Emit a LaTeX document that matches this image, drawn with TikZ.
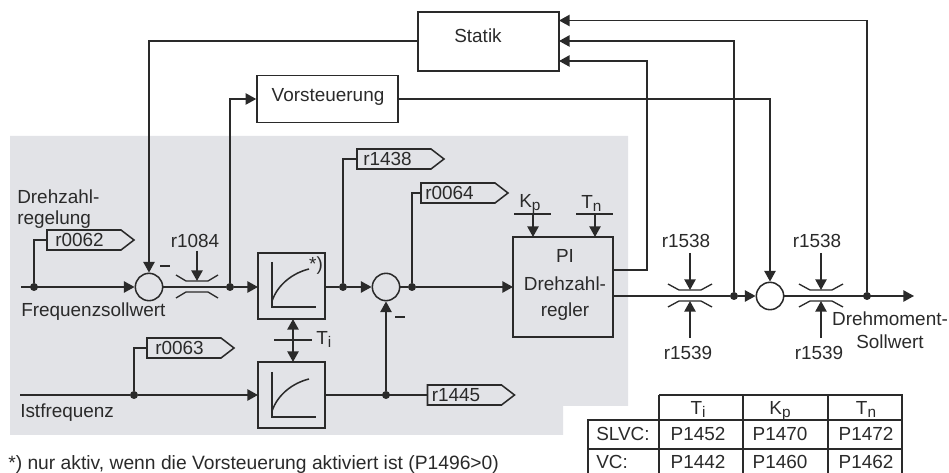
\documentclass[tikz,border=0pt]{standalone}
\usepackage{fontspec}
\setmainfont{Liberation Sans}
\usetikzlibrary{arrows.meta}
\definecolor{ink}{HTML}{2A2A2A}
\definecolor{panel}{HTML}{E2E3E7}
\newcommand{\sublbl}[2]{#1\raisebox{-0.13em}{\fontsize{11.5}{13}\selectfont #2}}
\tikzset{
  x=0.75pt,y=-0.75pt,
  wire/.style={draw=ink,line width=1.15pt},
  flow/.style={wire,-{Triangle[length=8pt,width=8.5pt]}},
  flowboth/.style={wire,{Triangle[length=8pt,width=8.5pt]}-{Triangle[length=8pt,width=8.5pt]}},
  txt/.style={font=\fontsize{14.2}{16}\selectfont,text=ink,inner sep=0pt},
  sumc/.style={circle,draw=ink,line width=1.15pt,minimum size=20.5pt,inner sep=0pt},
  dotn/.style={circle,fill=ink,minimum size=6pt,inner sep=0pt},
  limit/.style={draw=ink,line width=1pt},
  tagshape/.style={draw=ink,line width=1.15pt,line join=miter},
}
\newcommand{\tagbox}[5]{% name, x, y(center), text offset, text
  \draw[tagshape] (#2,#3-10) -- ++(74,0) -- ++(13,10) -- ++(-13,10) -- ++(-74,0) -- cycle;
  \coordinate (#1) at (#2,#3);
  \node[txt,anchor=west] at (#2+#4,#3) {#5};
}
\newcommand{\limiter}[4]{% cx, cy, halfinner, halfouter
  \draw[limit] (#1-#4,#2-12) -- (#1-#3,#2-6) -- (#1+#3,#2-6) -- (#1+#4,#2-12);
  \draw[limit] (#1-#4,#2+11) -- (#1-#3,#2+5) -- (#1+#3,#2+5) -- (#1+#4,#2+11);
}
\begin{document}
\begin{tikzpicture}
\useasboundingbox (0,0) rectangle (949,473);
\fill[panel] (10,136) -- (628,136) -- (628,406) -- (563,406) -- (563,435) -- (10,435) -- cycle;

% boxes
\node[draw=ink,line width=1.15pt,minimum width=105.75pt,minimum height=44.25pt,inner sep=0pt] (statik) at (488.5,41.5) {};
\node[txt] at (478,36) {Statik};
\node[draw=ink,line width=1.15pt,minimum width=105.75pt,minimum height=35.25pt,inner sep=0pt,txt] (vor) at (327.5,99) {};
\node[txt] at (328,97) {Vorsteuerung};
\node[draw=ink,line width=1.15pt,minimum width=75pt,minimum height=75pt,inner sep=0pt] (pi) at (563,287) {};
\node[txt] at (565,256) {PI};
\node[txt] at (565,284) {Drehzahl-};
\node[txt] at (565,312) {regler};
\node[draw=ink,line width=1.15pt,minimum width=50.25pt,minimum height=49.5pt,inner sep=0pt] (hl1) at (291.5,286) {};
\node[draw=ink,line width=1.15pt,minimum width=50.25pt,minimum height=49.5pt,inner sep=0pt] (hl2) at (291.5,395) {};
% curves
\draw[wire] (272,262) -- (272,307) -- (316,307);
\draw[wire] (272,301) .. controls (278,284) and (293,273) .. (309,269);
\draw[wire] (272,372) -- (272,417) -- (316,417);
\draw[wire] (272,411) .. controls (278,394) and (293,383) .. (309,379);
\node[txt] at (316,266) {*)};

% sum
\node[sumc] (s1) at (149,287) {};
\node[sumc] (s2) at (386,287) {};
\node[sumc] (s3) at (770,296) {};

% dots
\node[dotn] (d1) at (34,287) {};
\node[dotn] (d2) at (230,287) {};
\node[dotn] (d3) at (343,287) {};
\node[dotn] (d4) at (412,287) {};
\node[dotn] (d5) at (134,395) {};
\node[dotn] (d6) at (386,395) {};
\node[dotn] (d7) at (734,296) {};
\node[dotn] (d8) at (867,296) {};

% free ends
\coordinate (in1) at (21,287);
\coordinate (in2) at (20,395);
\coordinate (out) at (914,296);
\coordinate (st1) at (559,20.5);
\coordinate (st2) at (559,41);
\coordinate (st3) at (559,61);
\coordinate (pi1) at (613,270);
\coordinate (pi2) at (613,296);

% tags
\tagbox{t1}{47}{240}{8}{r0062}
\tagbox{t2}{147}{348}{8}{r0063}
\tagbox{t3}{357}{159}{6}{r1438}
\tagbox{t4}{421}{193}{4}{r0064}
\tagbox{t5}{427.5}{395}{4}{r1445}

% wires
\draw[flow] (in1) -- (s1.west);
\draw[wire] (d1) |- (t1);
\draw[wire] (s1.east) -- (d2);
\draw[flow] (d2) -- (258,287);
\draw[wire] (325,287) -- (d3);
\draw[flow] (d3) -- (s2.west);
\draw[wire] (d3) |- (t3);
\draw[wire] (s2.east) -- (d4);
\draw[wire] (d4) |- (t4);
\draw[flow] (d4) -- (513,287);
\draw[flow] (statik.west |- 0,41) -| (s1.north);
\draw[flow] (d2) |- (vor.west);
\draw[flow] (vor.east) -| (s3.north);
\draw[wire] (in2) -- (d5);
\draw[flow] (d5) -- (258,395);
\draw[wire] (d5) |- (t2);
\draw[wire] (325,395) -- (t5);
\draw[flow] (d6) -- (s2.south);
\draw[flow] (pi1) -- (647,270) -- (647,61) -- (st3);
\draw[wire] (pi2) -- (d7);
\draw[flow] (d7) -- (s3.west);
\draw[flow] (d7) |- (st2);
\draw[flow] (s3.east) -- (out);
\draw[flow] (d8) |- (st1);

% limiters
\limiter{197}{287}{11}{21}
\limiter{690}{296}{11}{22}
\limiter{821}{296}{11}{22}
\coordinate (l1a) at (197,251);
\draw[flow] (l1a) -- (197,281);
\coordinate (l2a) at (690,253);
\coordinate (l2b) at (690,338);
\coordinate (l3a) at (821,253);
\coordinate (l3b) at (821,338);
\draw[flow] (l2a) -- (690,290);
\draw[flow] (l2b) -- (690,301);
\draw[flow] (l3a) -- (821,290);
\draw[flow] (l3b) -- (821,301);

% T_i
\draw[flowboth] (293,319) -- (293,362);
\draw[wire] (274,340) -- (312,340);
% K_p T_n
\draw[wire] (514,214) -- (551,214);
\draw[flow] (533,214) -- (533,237);
\draw[wire] (576,214) -- (613,214);
\draw[flow] (595,214) -- (595,237);

% minus
\draw[wire] (160,266) -- (170,266);
\draw[wire] (395,317) -- (405,317);

% labels
\node[txt,anchor=west] at (17,197) {Drehzahl-};
\node[txt,anchor=west] at (17,220) {regelung};
\node[txt,anchor=west] at (21,312) {Frequenzsollwert};
\node[txt,anchor=west] at (20,413) {Istfrequenz};
\node[txt] at (195,241) {r1084};
\node[txt] at (686,241) {r1538};
\node[txt] at (688,353) {r1539};
\node[txt] at (817,241) {r1538};
\node[txt] at (819,353) {r1539};
\node[txt] at (890,319) {Drehmoment-};
\node[txt] at (890,342) {Sollwert};
\node[txt,anchor=base west] at (316,345) {\sublbl{T}{i}};
\node[txt,anchor=base west] at (519,208) {\sublbl{K}{p}};
\node[txt,anchor=base west] at (581,209) {\sublbl{T}{n}};
\node[txt,anchor=west,font=\fontsize{14.45}{16}\selectfont] at (8,465) {*) nur aktiv, wenn die Vorsteuerung aktiviert ist (P1496>0)};

% table
\coordinate (tbA) at (659,395);
\coordinate (tbB) at (902,395);
\coordinate (tbC) at (588,420);
\coordinate (tbD) at (902,420);
\coordinate (tbE) at (588,449);
\coordinate (tbF) at (902,449);
\coordinate (tbG) at (588,473);
\coordinate (tbH) at (902,473);
\draw[wire] (tbA) -- (tbB) -- (tbH);
\draw[wire] (tbG) -- (tbC) -- (tbD);
\draw[wire] (tbE) -- (tbF);
\draw[wire] (tbA) -- (659,473);
\draw[wire] (743,395) -- (743,473);
\draw[wire] (828,395) -- (828,473);
\node[txt,anchor=base] at (698,415) {\sublbl{T}{i}};
\node[txt,anchor=base] at (780,415) {\sublbl{K}{p}};
\node[txt,anchor=base] at (866,415) {\sublbl{T}{n}};
\node[txt,anchor=west] at (596,434) {SLVC:};
\node[txt,anchor=west] at (596,462) {VC:};
\node[txt] at (698,434) {P1452};
\node[txt] at (780,434) {P1470};
\node[txt] at (866,434) {P1472};
\node[txt] at (698,462) {P1442};
\node[txt] at (780,462) {P1460};
\node[txt] at (866,462) {P1462};
\end{tikzpicture}
\end{document}
